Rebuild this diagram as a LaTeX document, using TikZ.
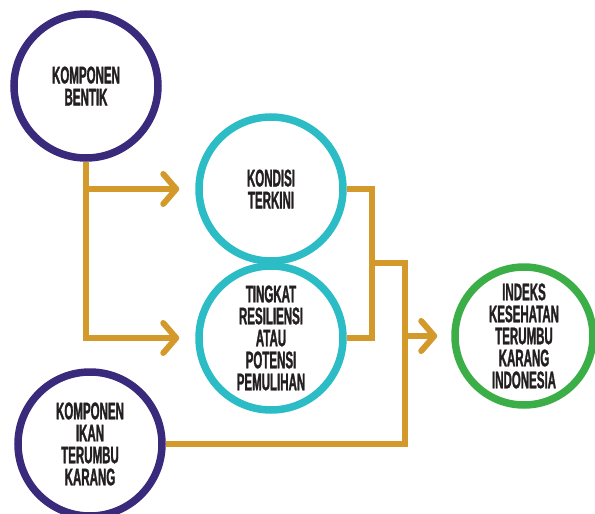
\documentclass[tikz,border=0pt]{standalone}
\usepackage{fontspec}
\setmainfont{Liberation Sans}[FakeStretch=0.48, BoldFeatures={FakeBold=1.2}]
\usepackage{tikz}
\usetikzlibrary{arrows.meta, positioning}

\definecolor{ungu}{HTML}{392A7C}
\definecolor{tosca}{HTML}{2CBCC6}
\definecolor{hijau}{HTML}{3CAE48}
\definecolor{emas}{HTML}{D39A2B}
\definecolor{tinta}{HTML}{231F20}

\tikzset{
  lingkaran/.style={circle, draw=#1, line width=7.5pt, minimum size=144pt, inner sep=0pt,
    align=center, text=tinta, font=\bfseries\fontsize{24}{22}\selectfont},
  jalur/.style={draw=emas, line width=6pt, line join=miter},
  panah/.style={jalur, -{Straight Barb[length=13pt, width=30pt, line cap=round, line join=round]}}
}

\begin{document}
\begin{tikzpicture}[x=1pt, y=-1pt]
\useasboundingbox (0,0) rectangle (595,514);

% lingkaran
\node [lingkaran=ungu] (bentik) at (86,86) {KOMPONEN\\BENTIK};
\node [lingkaran=tosca] (kondisi) at (271,189) {KONDISI\\TERKINI};
\node [lingkaran=tosca] (tingkat) at (271,338) {TINGKAT\\RESILIENSI\\ATAU\\POTENSI\\PEMULIHAN};
\node [lingkaran=hijau, minimum size=138pt] (indeks) at (524,336) {INDEKS\\KESEHATAN\\TERUMBU\\KARANG\\INDONESIA};
\node [lingkaran=ungu] (ikan) at (90,444) {KOMPONEN\\IKAN\\TERUMBU\\KARANG};

\coordinate (gabung) at (372,263);
\coordinate (bus) at (405,263);

% jalur
\draw [panah] (bentik.south) |- ([xshift=-16pt]tingkat.west);
\draw [panah] (bentik.south |- kondisi) -- ([xshift=-16pt]kondisi.west);
\draw [jalur] (kondisi.east) -| (gabung) |- (tingkat.east);
\draw [jalur] (gabung) -- (bus) |- (ikan.east);
\draw [panah] (bus |- indeks) -- ([xshift=-14pt]indeks.west);
\end{tikzpicture}
\end{document}
